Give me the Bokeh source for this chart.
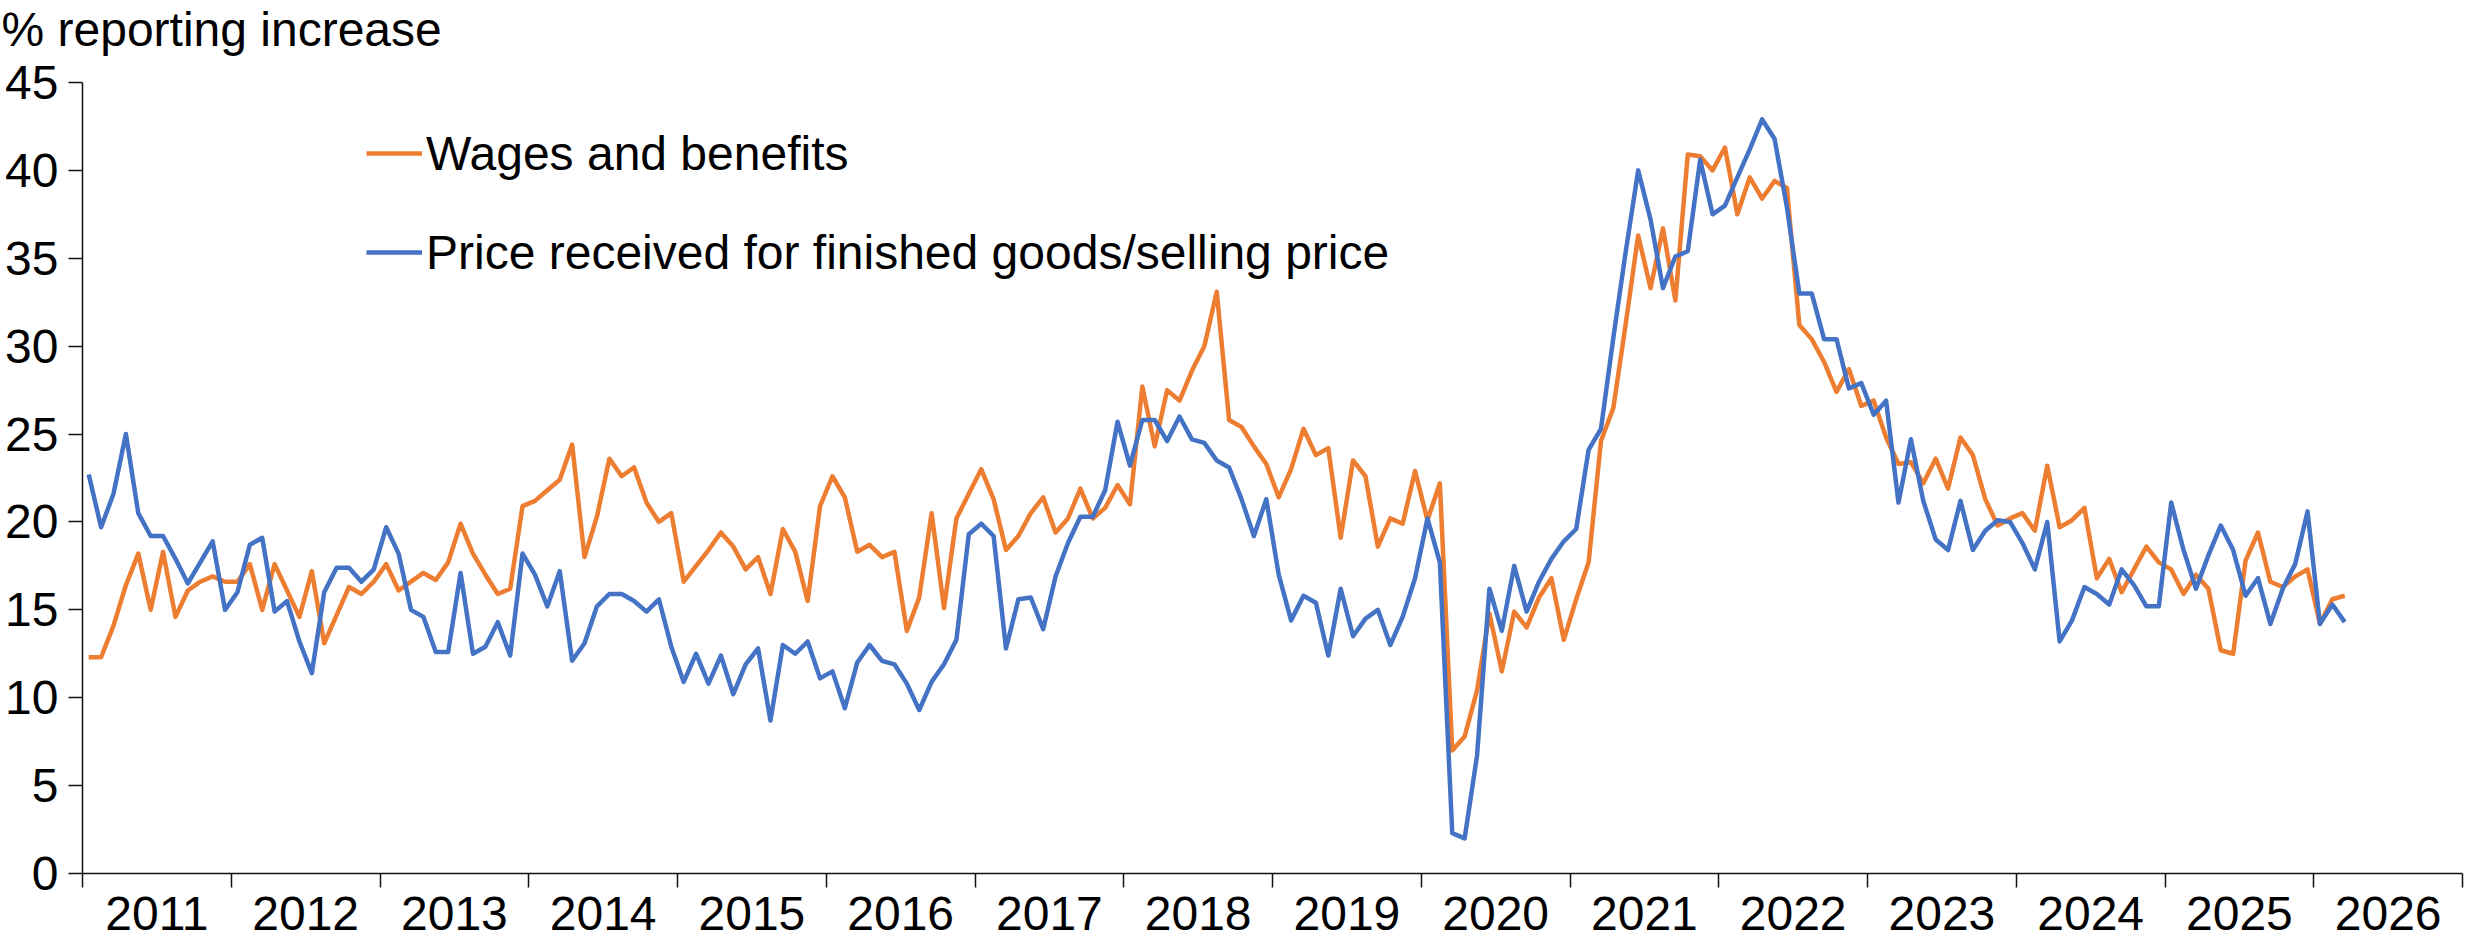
from bokeh.plotting import figure
from bokeh.models import Range1d, FixedTicker, Legend, LegendItem, Title
from bokeh.embed import file_html
from bokeh.resources import INLINE

# ---------------- data (monthly, Jan 2011 - Mar 2026) ----------------
years = ["2011", "2012", "2013", "2014", "2015", "2016", "2017", "2018",
         "2019", "2020", "2021", "2022", "2023", "2024", "2025", "2026"]

series_names = ["Wages and benefits",
                "Price received for finished goods/selling price"]

wages = [
    12.3, 12.3, 14.1, 16.4, 18.2, 15.0, 18.3, 14.6, 16.1, 16.6, 16.9, 16.6,   # 2011
    16.6, 17.6, 15.0, 17.6, 16.1, 14.6, 17.2, 13.1, 14.7, 16.3, 15.9, 16.6,   # 2012
    17.6, 16.1, 16.6, 17.1, 16.7, 17.7, 19.9, 18.2, 17.0, 15.9, 16.2, 20.9,   # 2013
    21.2, 21.8, 22.4, 24.4, 18.0, 20.3, 23.6, 22.6, 23.1, 21.1, 20.0, 20.5,   # 2014
    16.6, 17.5, 18.4, 19.4, 18.6, 17.3, 18.0, 15.9, 19.6, 18.3, 15.5, 20.9,   # 2015
    22.6, 21.4, 18.3, 18.7, 18.0, 18.3, 13.8, 15.7, 20.5, 15.1, 20.2, 21.6,   # 2016
    23.0, 21.3, 18.4, 19.2, 20.5, 21.4, 19.4, 20.2, 21.9, 20.2, 20.8, 22.1,   # 2017
    21.0, 27.7, 24.3, 27.5, 26.9, 28.6, 30.0, 33.1, 25.8, 25.4, 24.3, 23.3,   # 2018
    21.4, 23.0, 25.3, 23.8, 24.2, 19.1, 23.5, 22.6, 18.6, 20.2, 19.9, 22.9,   # 2019
    20.1, 22.2, 7.0, 7.8, 10.4, 14.8, 11.5, 14.9, 14.0, 15.7, 16.8, 13.3,     # 2020
    15.6, 17.7, 24.6, 26.5, 31.3, 36.3, 33.3, 36.7, 32.6, 40.9, 40.8, 40.0,   # 2021
    41.3, 37.5, 39.6, 38.4, 39.4, 39.0, 31.2, 30.4, 29.1, 27.4, 28.7, 26.6,   # 2022
    26.9, 24.8, 23.3, 23.4, 22.2, 23.6, 21.9, 24.8, 23.8, 21.3, 19.8, 20.2,   # 2023
    20.5, 19.5, 23.2, 19.7, 20.1, 20.8, 16.8, 17.9, 16.0, 17.3, 18.6, 17.7,   # 2024
    17.3, 15.9, 17.0, 16.2, 12.7, 12.5, 17.8, 19.4, 16.6, 16.3, 16.9, 17.3,   # 2025
    14.2, 15.6, 15.8,                                                         # 2026
]

prices = [
    22.7, 19.7, 21.6, 25.0, 20.5, 19.2, 19.2, 17.9, 16.5, 17.7, 18.9, 15.0,   # 2011
    16.0, 18.7, 19.1, 14.9, 15.5, 13.2, 11.4, 16.0, 17.4, 17.4, 16.6, 17.3,   # 2012
    19.7, 18.2, 15.0, 14.6, 12.6, 12.6, 17.1, 12.5, 12.9, 14.3, 12.4, 18.2,   # 2013
    17.0, 15.2, 17.2, 12.1, 13.1, 15.2, 15.9, 15.9, 15.5, 14.9, 15.6, 12.9,   # 2014
    10.9, 12.5, 10.8, 12.4, 10.2, 11.9, 12.8, 8.7, 13.0, 12.5, 13.2, 11.1,    # 2015
    11.5, 9.4, 12.0, 13.0, 12.1, 11.9, 10.8, 9.3, 10.9, 11.9, 13.3, 19.3,     # 2016
    19.9, 19.2, 12.8, 15.6, 15.7, 13.9, 16.9, 18.8, 20.3, 20.3, 21.8, 25.7,   # 2017
    23.2, 25.8, 25.8, 24.6, 26.0, 24.7, 24.5, 23.5, 23.1, 21.3, 19.2, 21.3,   # 2018
    17.0, 14.4, 15.8, 15.4, 12.4, 16.2, 13.5, 14.5, 15.0, 13.0, 14.6, 16.8,   # 2019
    20.2, 17.7, 2.3, 2.0, 6.7, 16.2, 13.8, 17.5, 14.9, 16.6, 17.9, 18.9,      # 2020
    19.6, 24.1, 25.3, 30.5, 35.4, 40.0, 37.2, 33.3, 35.1, 35.4, 40.6, 37.5,   # 2021
    38.0, 39.6, 41.2, 42.9, 41.8, 37.9, 33.0, 33.0, 30.4, 30.4, 27.6, 27.9,   # 2022
    26.1, 26.9, 21.1, 24.7, 21.2, 19.0, 18.4, 21.2, 18.4, 19.5, 20.1, 20.0,   # 2023
    18.8, 17.3, 20.0, 13.2, 14.4, 16.3, 15.9, 15.3, 17.3, 16.4, 15.2, 15.2,   # 2024
    21.1, 18.4, 16.2, 18.1, 19.8, 18.4, 15.8, 16.8, 14.2, 16.2, 17.6, 20.6,   # 2025
    14.2, 15.3, 14.3,                                                         # 2026
]

y_ticks = [0, 5, 10, 15, 20, 25, 30, 35, 40, 45]
y_title = "% reporting increase"

# ---------------- styling ----------------
FONT = "Liberation Sans"
FS = "48px"
ORANGE = "#ED7D31"
BLUE = "#4472C4"
AXIS_COLOR = "#111111"

n_months_axis = 12 * len(years)
month_x = [i + 0.5 for i in range(len(wages))]
year_centres = [12 * k + 6 for k in range(len(years))]
year_bounds = [12 * k for k in range(len(years) + 1)]

p = figure(width=2471, height=944, output_backend="svg", toolbar_location=None,
           x_range=Range1d(0, n_months_axis),
           y_range=Range1d(y_ticks[0], y_ticks[-1]),
           min_border_left=82, min_border_right=9, min_border_top=82,
           min_border_bottom=71)
p.outline_line_color = None
p.grid.visible = False
p.background_fill_color = "white"
p.border_fill_color = "white"

r1 = p.line(month_x, wages, line_color=ORANGE, line_width=4.5, line_join="round")
r2 = p.line(month_x, prices, line_color=BLUE, line_width=4.5, line_join="round")

# small blank spacer between the frame and the title, so the title sits at the very top
p.add_layout(Title(text=" ", text_font_size="10px", standoff=12), "above")

# title above the y axis
p.title.text = y_title
p.title.align = "left"
p.title.vertical_align = "top"
p.title.offset = -81
p.title.standoff = 0
p.title.text_font = FONT
p.title.text_font_size = FS
p.title.text_font_style = "normal"
p.title.text_color = "black"

# x axis: labels centred in each year, tick marks at year boundaries
xa = p.xaxis[0]
xa.ticker = FixedTicker(ticks=year_centres, minor_ticks=year_bounds)
xa.major_label_overrides = {c: y for c, y in zip(year_centres, years)}
xa.major_tick_out = 0
xa.major_tick_in = 0
xa.major_tick_line_color = None
xa.minor_tick_out = 14
xa.minor_tick_in = 0
xa.minor_tick_line_color = AXIS_COLOR
xa.minor_tick_line_width = 1.5
xa.axis_line_color = AXIS_COLOR
xa.axis_line_width = 1.5
xa.major_label_text_font = FONT
xa.major_label_text_font_size = FS
xa.major_label_text_color = "black"
xa.major_label_standoff = 9

# y axis
ya = p.yaxis[0]
ya.ticker = FixedTicker(ticks=y_ticks, minor_ticks=[])
ya.major_tick_out = 14
ya.major_tick_in = 0
ya.minor_tick_line_color = None
ya.axis_line_color = AXIS_COLOR
ya.axis_line_width = 1.5
ya.major_tick_line_color = AXIS_COLOR
ya.major_tick_line_width = 1.5
ya.major_label_text_font = FONT
ya.major_label_text_font_size = FS
ya.major_label_text_color = "black"
ya.major_label_standoff = 10

legend = Legend(items=[LegendItem(label=series_names[0], renderers=[r1]),
                       LegendItem(label=series_names[1], renderers=[r2])],
                location=(284, 591), orientation="vertical", padding=0, margin=0,
                spacing=39, glyph_width=56, glyph_height=60, label_height=60,
                label_standoff=4, label_text_font=FONT, label_text_font_size=FS,
                label_text_color="black", border_line_color=None,
                background_fill_alpha=0)
p.add_layout(legend)

open("out.html", "w").write(file_html(p, INLINE))
